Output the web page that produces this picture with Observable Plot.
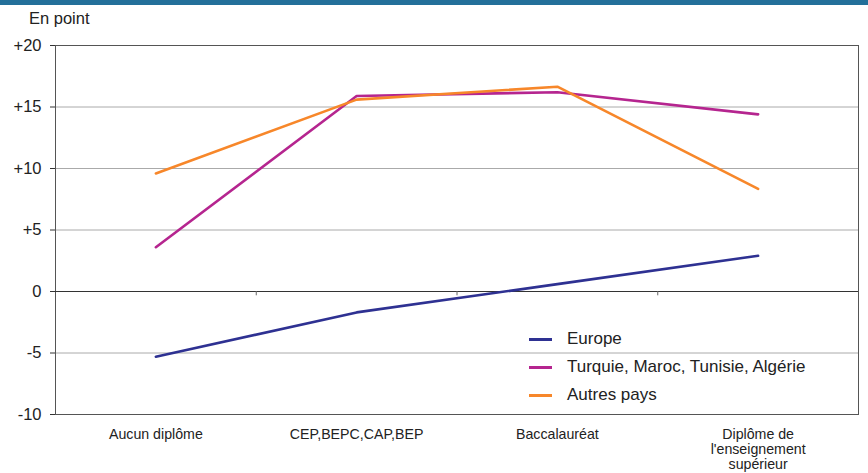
<!DOCTYPE html>
<html><head><meta charset="utf-8">
<script src="https://cdn.jsdelivr.net/npm/d3@7"></script>
<script src="https://cdn.jsdelivr.net/npm/@observablehq/plot@0.6"></script>
<style>
body{margin:0;background:#fff;font-family:"Liberation Sans",Arial,sans-serif}
#wrap{position:relative;width:868px;height:473px;overflow:hidden;background:#fff}
#bar{position:absolute;left:0;top:0;width:868px;height:5px;background:#23709a}
#unit{position:absolute;left:29px;top:9px;font-size:16.5px;color:#222;line-height:19px}
#chart{position:absolute;left:0;top:0}
#legend{position:absolute;left:529px;top:325px;font-size:17px;color:#222}
.row{display:flex;align-items:center;height:28px}
.sw{width:23px;height:3px;margin-right:15px}
</style></head>
<body>
<div id="wrap"><div id="chart"></div><div id="bar"></div><div id="unit">En point</div><div id="legend"></div></div>
<script>
const categories = ["Aucun diplôme","CEP,BEPC,CAP,BEP","Baccalauréat","Diplôme de\nl'enseignement\nsupérieur"];
const series = ["Europe","Turquie, Maroc, Tunisie, Algérie","Autres pays"];
const europe = [-5.3,-1.7,0.6,2.9];
const maghreb = [3.6,15.9,16.2,14.4];
const autres = [9.6,15.6,16.65,8.35];
const yTicks = [-10,-5,0,5,10,15,20];
const colors = ["#2e3192","#b5258f","#f7872a"];

const values = [europe, maghreb, autres];
const rows = series.flatMap((s,k)=>values[k].map((v,i)=>({series:s, x:i+0.5, value:v})));
const boundaries = categories.slice(1).map((_,i)=>i+1);

const chart = Plot.plot({
  width:868, height:473,
  marginLeft:55, marginRight:10, marginTop:45, marginBottom:59,
  style:{fontFamily:"'Liberation Sans', Arial, sans-serif", color:"#222", background:"transparent"},
  x:{domain:[0,categories.length]},
  y:{domain:[-10,20]},
  color:{domain:series, range:colors},
  marks:[
    Plot.gridY(yTicks.filter(d=>d!==0&&d!==20&&d!==-10),{stroke:"#aaa",strokeOpacity:1}),
    Plot.frame({stroke:"#555"}),
    Plot.ruleY([0],{stroke:"#333"}),
    Plot.ruleX(boundaries,{y1:0,y2:-0.35,stroke:"#666"}),
    Plot.axisY({ticks:yTicks, tickFormat:d=>d>0?"+"+d:String(d), tickSize:5, tickPadding:9, fontSize:16.5, label:null, stroke:"#333"}),
    Plot.axisX({ticks:categories.map((_,i)=>i+0.5), tickFormat:d=>categories[Math.floor(d)], tickSize:0, tickPadding:14, fontSize:14.2, lineHeight:1.05, label:null}),
    Plot.line(rows,{x:"x", y:"value", z:"series", stroke:"series", strokeWidth:2.6})
  ]
});
document.getElementById("chart").appendChild(chart);

const legend = document.getElementById("legend");
series.forEach((s,k)=>{
  const r = document.createElement("div"); r.className="row";
  const sw = document.createElement("div"); sw.className="sw"; sw.style.background=colors[k];
  const t = document.createElement("span"); t.textContent=s;
  r.appendChild(sw); r.appendChild(t); legend.appendChild(r);
});
</script>
</body></html>
